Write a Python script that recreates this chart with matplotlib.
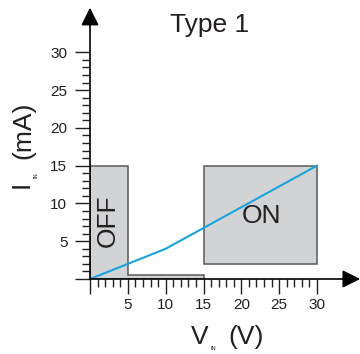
import matplotlib
matplotlib.use('Agg')
import matplotlib.pyplot as plt
from matplotlib.patches import Polygon

W, H = 360, 354
plt.rcParams['font.family'] = ['Liberation Sans', 'DejaVu Sans']
ink = '#231f20'

# blue transfer curve
curve_v = [0, 10, 30]
curve_i = [0, 4, 15]
# OFF region (L shape) and ON region
off_v = [0, 0, 5, 5, 15, 15]
off_i = [0, 15, 15, 0.5, 0.5, 0]
on_v = [15, 30]
on_i = [2, 15]
ticks = [5, 10, 15, 20, 25, 30]


def px(x, y):
    # pixel position -> figure fraction
    return x / W, 1 - y / H


fig = plt.figure(figsize=(W / 100, H / 100), dpi=100)
x0, y0 = 90, 279
sx, sy = 7.567, 7.556
xmax, ymax = 35.7, 35.9
ax = fig.add_axes([x0 / W, (H - y0) / H, xmax * sx / W, ymax * sy / H])
ax.set_xlim(0, xmax)
ax.set_ylim(0, ymax)
for s in ax.spines.values():
    s.set_visible(False)

ax.add_patch(Polygon(list(zip(off_v, off_i)), closed=True, facecolor='#d1d3d4',
                     edgecolor='#58595b', lw=1.1, zorder=1))
ax.add_patch(Polygon([(on_v[0], on_i[0]), (on_v[0], on_i[1]), (on_v[1], on_i[1]),
                      (on_v[1], on_i[0])], closed=True, facecolor='#d1d3d4',
                     edgecolor='#58595b', lw=1.1, zorder=1))
ax.plot(curve_v, curve_i, color='#1ba3de', lw=1.5, zorder=3, clip_on=False)

ax.text(2.4, 7.7, 'OFF', rotation=90, ha='center', va='center', fontsize=19, color=ink)
ax.text(22.6, 8.4, 'ON', ha='center', va='center', fontsize=19, color=ink)

# axes with arrow heads
arr = dict(arrowstyle='-|>', color='black', lw=1.2, mutation_scale=27,
           shrinkA=0, shrinkB=0)
ax.annotate('', xy=(xmax, 0), xytext=(0, 0), arrowprops=arr, annotation_clip=False)
ax.annotate('', xy=(0, ymax), xytext=(0, 0), arrowprops=arr, annotation_clip=False)

ax.set_xticks([0] + ticks, labels=[''] + [str(t) for t in ticks])
ax.set_yticks([0] + ticks, labels=[''] + [str(t) for t in ticks])
ax.set_xticks(range(1, 30), minor=True)
ax.set_yticks(range(1, 30), minor=True)
ax.tick_params(which='major', length=10.8, width=1.0, color=ink, labelcolor=ink,
               labelsize=11, direction='out')
ax.tick_params(which='minor', length=5.5, width=1.0, color=ink, direction='out')
ax.tick_params(axis='x', which='major', pad=3)
ax.tick_params(axis='y', which='major', pad=5.5)

fig.text(*px(210, 32), 'Type 1', ha='center', va='baseline', fontsize=19, color=ink)

# y label: I_IN (mA)
fig.text(*px(22, 184), 'I', rotation=90, ha='center', va='center', fontsize=19, color=ink)
fig.text(*px(36, 175), 'IN', rotation=90, ha='center', va='center', fontsize=4, color=ink)
fig.text(*px(23, 130), '(mA)', rotation=90, ha='center', va='center', fontsize=19, color=ink)

# x label: V_IN (V)
fig.text(*px(199.5, 344), 'V', ha='center', va='baseline', fontsize=19, color=ink)
fig.text(*px(213, 350), 'IN', ha='center', va='baseline', fontsize=4, color=ink)
fig.text(*px(246.5, 344), '(V)', ha='center', va='baseline', fontsize=19, color=ink)

fig.savefig('out.png', dpi=100)
